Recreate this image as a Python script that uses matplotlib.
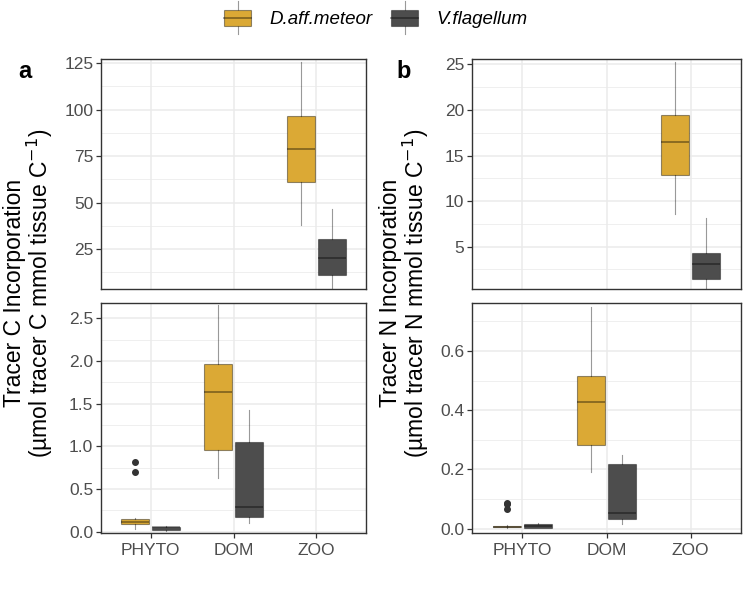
import matplotlib
matplotlib.use("Agg")
import matplotlib.pyplot as plt
from matplotlib.patches import Patch, Rectangle
from matplotlib.lines import Line2D
from matplotlib.ticker import MultipleLocator

plt.rcParams['font.family'] = ['Liberation Sans', 'DejaVu Sans']

# --- data ---
categories = ["PHYTO", "DOM", "ZOO"]
species = ["D.aff.meteor", "V.flagellum"]
colors = ["#DBA935", "#4D4D4D"]

# box stats: [low whisker, q1, median, q3, high whisker]
c_zoo_daff = [38.2, 61.0, 78.7, 96.6, 125.9]
c_zoo_vfla = [4.0, 11.1, 20.0, 30.5, 46.8]
c_phyto_daff = [0.035, 0.09, 0.11, 0.146, 0.16]
c_phyto_daff_out = [0.70, 0.82]
c_phyto_vfla = [0.01, 0.02, 0.05, 0.06, 0.07]
c_dom_daff = [0.627, 0.958, 1.64, 1.96, 2.656]
c_dom_vfla = [0.106, 0.17, 0.287, 1.055, 1.426]

n_zoo_daff = [8.55, 12.9, 16.5, 19.4, 25.3]
n_zoo_vfla = [0.4, 1.5, 3.07, 4.27, 8.1]
n_phyto_daff = [0.003, 0.005, 0.007, 0.009, 0.012]
n_phyto_daff_out = [0.068, 0.083, 0.088]
n_phyto_vfla = [0.002, 0.003, 0.01, 0.016, 0.018]
n_dom_daff = [0.192, 0.282, 0.428, 0.516, 0.748]
n_dom_vfla = [0.015, 0.032, 0.052, 0.22, 0.249]

LINE = (0, 0, 0, 0.4)   # outline drawn semi-transparent like in ggplot
TICK_FS = 12.5

W, H = 751, 589
fig = plt.figure(figsize=(W / 100, H / 100), dpi=100)


def add_ax(x0, x1, ytop, ybot):
    return fig.add_axes([x0 / W, 1 - ybot / H, (x1 - x0) / W, (ybot - ytop) / H])


def stat(vals, fliers=()):
    lo, q1, med, q3, hi = vals
    return dict(whislo=lo, q1=q1, med=med, q3=q3, whishi=hi, fliers=list(fliers))


def draw_boxes(ax, entries):
    # entries: (category, species index, stats, outliers)
    for cat, si, vals, out in entries:
        pos = categories.index(cat) + 1 + (-0.1875 if si == 0 else 0.1875)
        ax.bxp([stat(vals, out)], positions=[pos], widths=0.335, patch_artist=True,
               showcaps=False,
               boxprops=dict(facecolor=colors[si], edgecolor=LINE, linewidth=0.8),
               medianprops=dict(color=LINE, linewidth=1.3),
               whiskerprops=dict(color=LINE, linewidth=0.8),
               flierprops=dict(marker="o", markerfacecolor="#333333", markeredgecolor="#333333",
                               markersize=4))


def style(ax, ylim, major, minor, bottom):
    ax.set_xlim(0.4, 3.6)
    ax.set_ylim(*ylim)
    ax.yaxis.set_major_locator(MultipleLocator(major))
    ax.yaxis.set_minor_locator(MultipleLocator(minor))
    ax.set_xticks([1, 2, 3])
    ax.grid(True, which="major", color="#EBEBEB", linewidth=1.1)
    ax.grid(True, which="minor", axis="y", color="#EBEBEB", linewidth=0.55)
    ax.set_axisbelow(True)
    for s in ax.spines.values():
        s.set_color("#333333")
        s.set_linewidth(1.0)
    ax.tick_params(axis="y", which="minor", length=0)
    ax.tick_params(axis="y", which="major", length=3.5, width=0.9, color="#333333",
                   labelsize=TICK_FS, labelcolor="#4D4D4D", pad=2)
    if bottom:
        ax.set_xticklabels(categories)
        ax.tick_params(axis="x", length=3.5, width=0.9, color="#333333",
                       labelsize=TICK_FS, labelcolor="#4D4D4D", pad=4)
    else:
        ax.tick_params(axis="x", length=0, labelbottom=False)


# left column: carbon
ax_ct = add_ax(101, 366, 59, 289)
draw_boxes(ax_ct, [("ZOO", 0, c_zoo_daff, []), ("ZOO", 1, c_zoo_vfla, [])])
style(ax_ct, (3.5, 127.3), 25, 12.5, False)

ax_cb = add_ax(101, 366, 303, 533)
draw_boxes(ax_cb, [("PHYTO", 0, c_phyto_daff, c_phyto_daff_out), ("PHYTO", 1, c_phyto_vfla, []),
                   ("DOM", 0, c_dom_daff, []), ("DOM", 1, c_dom_vfla, [])])
style(ax_cb, (-0.015, 2.68), 0.5, 0.25, True)
ax_cb.yaxis.set_major_formatter(lambda v, p: f"{v:.1f}")

# right column: nitrogen
ax_nt = add_ax(472, 741, 59, 289)
draw_boxes(ax_nt, [("ZOO", 0, n_zoo_daff, []), ("ZOO", 1, n_zoo_vfla, [])])
style(ax_nt, (0.36, 25.6), 5, 2.5, False)

ax_nb = add_ax(472, 741, 303, 533)
draw_boxes(ax_nb, [("PHYTO", 0, n_phyto_daff, n_phyto_daff_out), ("PHYTO", 1, n_phyto_vfla, []),
                   ("DOM", 0, n_dom_daff, []), ("DOM", 1, n_dom_vfla, [])])
style(ax_nb, (-0.0145, 0.762), 0.2, 0.1, True)
ax_nb.yaxis.set_major_formatter(lambda v, p: f"{v:.1f}")

# axis titles and panel letters
fig.text(29 / W, 1 - 293 / H, "Tracer C Incorporation\n(µmol tracer C mmol tissue C$^{-1}$)",
         rotation=90, ha="center", va="center", fontsize=16.5, multialignment="center",
         linespacing=0.92)
fig.text(405 / W, 1 - 293 / H, "Tracer N Incorporation\n(µmol tracer N mmol tissue C$^{-1}$)",
         rotation=90, ha="center", va="center", fontsize=16.5, multialignment="center",
         linespacing=0.92)
fig.text(25 / W, 1 - 72 / H, "a", fontsize=17, fontweight="bold", ha="center", va="center")
fig.text(404 / W, 1 - 72 / H, "b", fontsize=17, fontweight="bold", ha="center", va="center")


# legend keys drawn like small boxplots
class BoxKey:
    def legend_artist(self, legend, orig_handle, fontsize, handlebox):
        x0, y0 = -handlebox.xdescent, -handlebox.ydescent
        w, h = handlebox.width, handlebox.height
        tr = handlebox.get_transform()
        rect = Rectangle((x0, y0), w, h, facecolor=orig_handle.get_facecolor(),
                         edgecolor=LINE, linewidth=0.8, transform=tr)
        handlebox.add_artist(Line2D([x0 + w / 2] * 2, [y0 - 0.5 * h, y0 + 1.5 * h],
                                    color=LINE, linewidth=0.8, transform=tr))
        handlebox.add_artist(rect)
        handlebox.add_artist(Line2D([x0, x0 + w], [y0 + h / 2] * 2, color=LINE,
                                    linewidth=1.3, transform=tr))
        return rect


handles = [Patch(facecolor=c) for c in colors]
fig.legend(handles, species, loc="center", bbox_to_anchor=(0.5, 1 - 19 / H), ncol=2,
           frameon=False, handler_map={Patch: BoxKey()},
           prop=dict(style="italic", size=13.5), handlelength=1.46, handleheight=0.97,
           columnspacing=1.0, handletextpad=0.95)

fig.savefig("out.png", dpi=100)
